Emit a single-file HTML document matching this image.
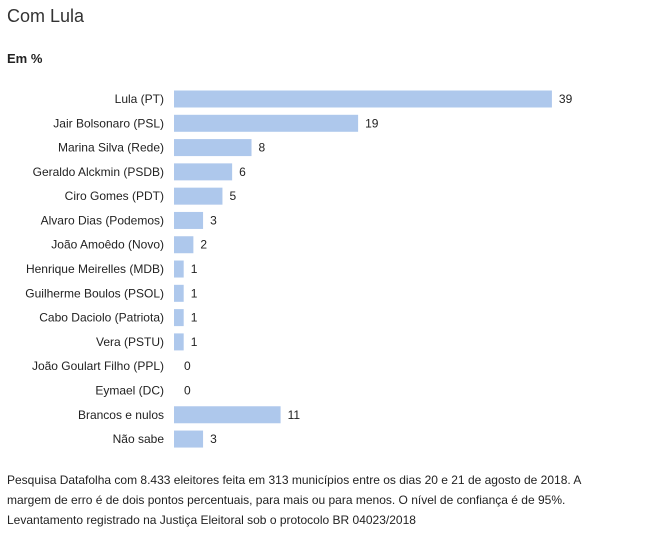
<!DOCTYPE html>
<html><head><meta charset="utf-8"><style>
body{margin:0;background:#fff;font-family:"Liberation Sans",sans-serif;color:#222;}
#wrap{position:relative;width:648px;height:536px;overflow:hidden;}
.title{position:absolute;left:7px;top:6px;font-size:18px;color:#333;}
.unit{position:absolute;left:7px;top:51px;font-size:13px;font-weight:bold;}
.note{position:absolute;left:7px;top:470px;width:605px;font-size:12px;line-height:20px;color:#222;}
svg text{font-family:"Liberation Sans",sans-serif;font-size:12px;fill:#222;}
</style></head><body>
<div id="wrap">
<div class="title">Com Lula</div>
<div class="unit">Em %</div>
<svg id="chart" width="648" height="460" style="position:absolute;left:0;top:0"></svg>
<div class="note">Pesquisa Datafolha com 8.433 eleitores feita em 313 municípios entre os dias 20 e 21 de agosto de 2018. A margem de erro é de dois pontos percentuais, para mais ou para menos. O nível de confiança é de 95%.<br>Levantamento registrado na Justiça Eleitoral sob o protocolo BR 04023/2018</div>
</div>
<script>
const categories=["Lula (PT)","Jair Bolsonaro (PSL)","Marina Silva (Rede)","Geraldo Alckmin (PSDB)","Ciro Gomes (PDT)","Alvaro Dias (Podemos)","João Amoêdo (Novo)","Henrique Meirelles (MDB)","Guilherme Boulos (PSOL)","Cabo Daciolo (Patriota)","Vera (PSTU)","João Goulart Filho (PPL)","Eymael (DC)","Brancos e nulos","Não sabe"];
const values=[39,19,8,6,5,3,2,1,1,1,1,0,0,11,3];
const NS="http://www.w3.org/2000/svg";
const svg=document.getElementById('chart');
const x0=174,pxPer=9.69,y0=99,step=24.29,bh=17;
function xs(v){return x0+v*pxPer;}
function yc(i){return y0+i*step;}
categories.forEach((c,i)=>{
  const t=document.createElementNS(NS,'text');
  
  
  t.setAttribute('x',164);t.setAttribute('y',yc(i)+4);t.setAttribute('text-anchor','end');
  t.textContent=c;svg.appendChild(t);
  const r=document.createElementNS(NS,'rect');
  
  
  r.setAttribute('x',x0);r.setAttribute('y',yc(i)-bh/2);
  r.setAttribute('width',xs(values[i])-x0);r.setAttribute('height',bh);
  r.setAttribute('fill','#aec8ec');svg.appendChild(r);
  const v=document.createElementNS(NS,'text');
  
  
  v.setAttribute('x',xs(values[i])+7+(values[i]==0?3:0));v.setAttribute('y',yc(i)+4);
  v.textContent=values[i];svg.appendChild(v);
});
</script>
</body></html>
